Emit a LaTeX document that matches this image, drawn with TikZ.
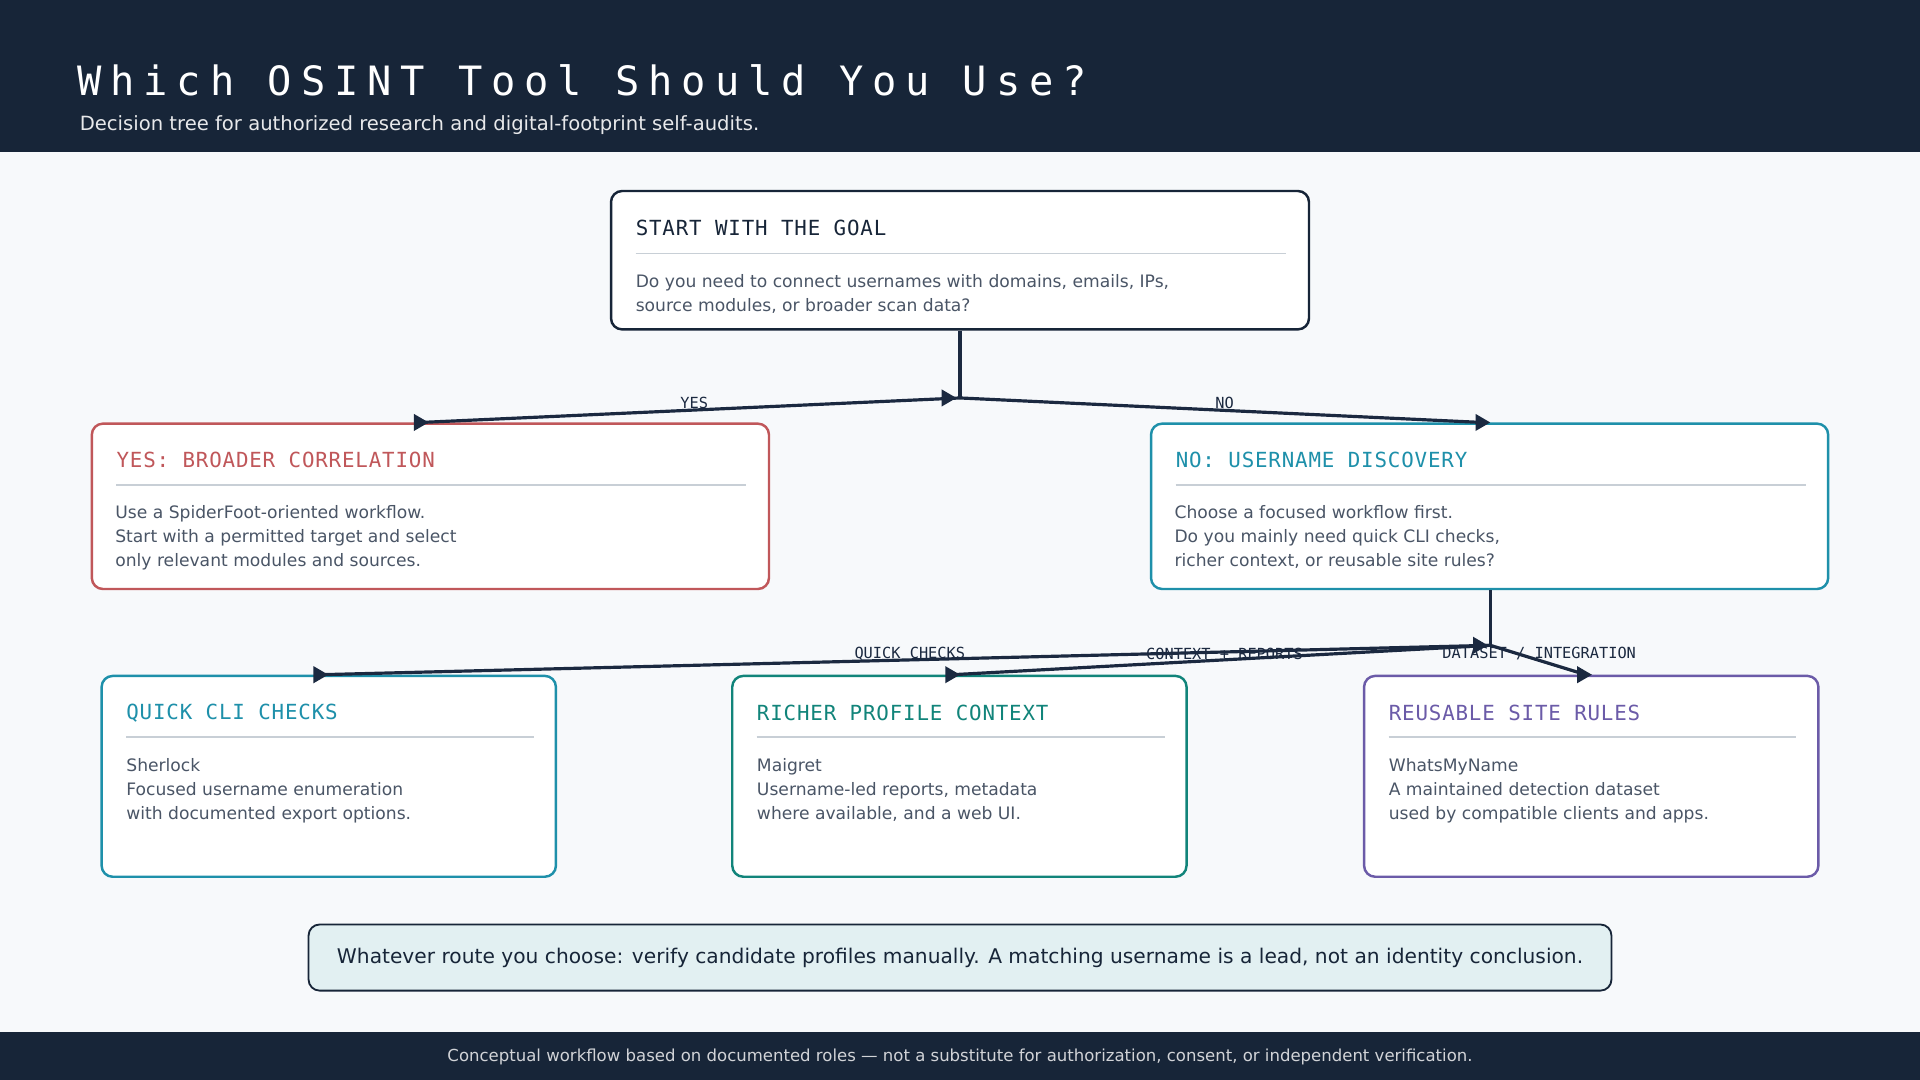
\documentclass[tikz,border=0pt]{standalone}
\usepackage{fontspec}
\setmainfont{DejaVu Sans}
\newfontfamily\monof{DejaVu Sans Mono}
\newfontfamily\titlef{DejaVu Sans Mono}[LetterSpace=22]
\newfontfamily\boxtf{DejaVu Sans Mono}[LetterSpace=4]
\usetikzlibrary{positioning}
\definecolor{navy}{HTML}{172538}
\definecolor{ink}{HTML}{1B2940}
\definecolor{bg}{HTML}{F7F9FB}
\definecolor{cred}{HTML}{C0575A}
\definecolor{cblue}{HTML}{1E90AA}
\definecolor{cgreen}{HTML}{11847A}
\definecolor{cpurp}{HTML}{6B5BA8}
\definecolor{body}{HTML}{4A5566}
\definecolor{rule}{HTML}{C8CFD6}
\definecolor{notebg}{HTML}{E2F0F2}
\tikzset{
 box/.style={draw=#1, line width=2pt, rounded corners=9pt, fill=white},
 btitle/.style={anchor=west, font=\boxtf\fontsize{17}{20}\selectfont, text=#1, inner sep=0},
 btext/.style={anchor=north west, align=left, font=\fontsize{14}{19.6}\selectfont, text=body, inner sep=0},
 conn/.style={draw=ink, line width=2.6pt},
 lab/.style={font=\monof\fontsize{12.5}{14}\selectfont, text=ink, inner sep=0},
}
\newcommand\rtri[1]{\fill[ink] ($(#1)+(-9,-7)$) -- ($(#1)+(3,0)$) -- ($(#1)+(-9,7)$) -- cycle;}
\usetikzlibrary{calc}
\begin{document}
\begin{tikzpicture}[x=1pt,y=-1pt]
\useasboundingbox (0,0) rectangle (1568,882);
\fill[bg] (0,0) rectangle (1568,882);
\fill[navy] (0,0) rectangle (1568,124);
\fill[navy] (0,843) rectangle (1568,882);
\node[anchor=west,inner sep=0,text=white,font=\titlef\fontsize{33}{36}\selectfont] (title) at (63,66) {Which OSINT Tool Should You Use?};
\node[anchor=west,inner sep=0,text=white!90!navy,font=\fontsize{16}{18}\selectfont] (sub) at (65,102) {Decision tree for authorized research and digital-footprint self-audits.};
\node[inner sep=0,text=white!80!navy,font=\fontsize{13.5}{15}\selectfont] (foot) at (784,863) {Conceptual workflow based on documented roles — not a substitute for authorization, consent, or independent verification.};

% boxes
\draw[box=navy] (499,156) rectangle (1069,269);
\node[btitle=navy] (st) at (519,186) {START WITH THE GOAL};
\draw[rule,line width=1.2pt] (519,207) -- (1050,207);
\node[btext] (sb) at (519,224) {Do you need to connect usernames with domains, emails, IPs,\\source modules, or broader scan data?};

\draw[box=cred] (75,346) rectangle (628,481);
\node[btitle=cred] (yt) at (95,376) {YES: BROADER CORRELATION};
\draw[rule,line width=1.2pt] (95,396) -- (609,396);
\node[btext] (yb) at (94,413) {Use a SpiderFoot-oriented workflow.\\Start with a permitted target and select\\only relevant modules and sources.};

\draw[box=cblue] (940,346) rectangle (1493,481);
\node[btitle=cblue] (nt) at (960,376) {NO: USERNAME DISCOVERY};
\draw[rule,line width=1.2pt] (960,396) -- (1475,396);
\node[btext] (nb) at (959,413) {Choose a focused workflow first.\\Do you mainly need quick CLI checks,\\richer context, or reusable site rules?};

\draw[box=cblue] (83,552) rectangle (454,716);
\node[btitle=cblue] (qt) at (103,582) {QUICK CLI CHECKS};
\draw[rule,line width=1.2pt] (103,602) -- (436,602);
\node[btext] (qb) at (103,619) {Sherlock\\Focused username enumeration\\with documented export options.};

\draw[box=cgreen] (598,552) rectangle (969,716);
\node[btitle=cgreen] (rt) at (618,582) {RICHER PROFILE CONTEXT};
\draw[rule,line width=1.2pt] (618,602) -- (951,602);
\node[btext] (rb) at (618,619) {Maigret\\Username-led reports, metadata\\where available, and a web UI.};

\draw[box=cpurp] (1114,552) rectangle (1485,716);
\node[btitle=cpurp] (ut) at (1134,582) {REUSABLE SITE RULES};
\draw[rule,line width=1.2pt] (1134,602) -- (1467,602);
\node[btext] (ub) at (1134,619) {WhatsMyName\\A maintained detection dataset\\used by compatible clients and apps.};

\draw[draw=navy,line width=1.5pt,rounded corners=9pt,fill=notebg] (252,755) rectangle (1316,809);
\node[inner sep=0,text=navy,font=\fontsize{16.5}{18}\selectfont] (note) at (784,782) {Whatever route you choose: verify candidate profiles manually. A matching username is a lead, not an identity conclusion.};

% connectors
\coordinate (s0) at (784,270);
\coordinate (j1) at (784,325);
\coordinate (ty) at (344,345);
\coordinate (tn) at (1210,345);
\draw[conn] (s0) -- (j1);
\draw[conn] (j1) -- (ty);
\draw[conn] (j1) -- (tn);
\rtri{778,325} \rtri{347,345} \rtri{1214,345}
\node[lab] (ly) at (567,329) {YES};
\node[lab] (ln) at (1000,329) {NO};

\coordinate (n0) at (1217,482);
\coordinate (j2) at (1217,527);
\coordinate (tq) at (262,551);
\coordinate (tr) at (778,551);
\coordinate (tu) at (1295,551);
\draw[conn] (n0) -- (j2);
\draw[conn] (j2) -- (tq);
\draw[conn] (j2) -- (tr);
\draw[conn] (j2) -- (tu);
\rtri{1212,527} \rtri{265,551} \rtri{781,551} \rtri{1297,551}
\node[lab] (lq) at (743,534) {QUICK CHECKS};
\node[lab] (lr) at (1000,534) {CONTEXT + REPORTS};
\node[lab] (lu) at (1257,534) {DATASET / INTEGRATION};
\end{tikzpicture}
\end{document}
